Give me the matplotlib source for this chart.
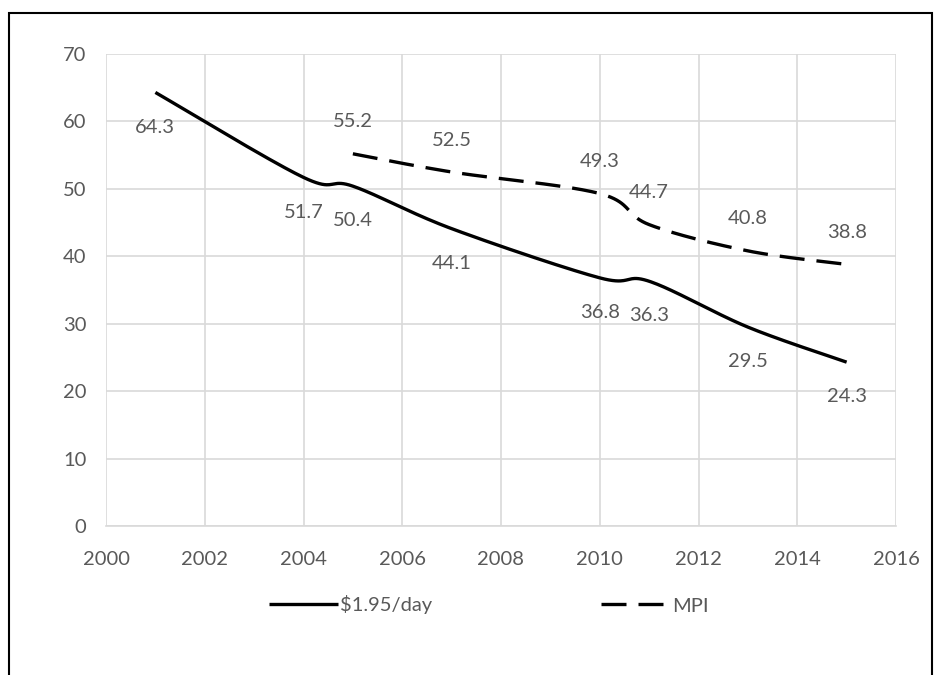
import numpy as np
import matplotlib.pyplot as plt
from matplotlib.patches import Rectangle

# $1.95/day poverty headcount
years_usd = [2001, 2004, 2005, 2007, 2010, 2011, 2013, 2015]
vals_usd = [64.3, 51.7, 50.4, 44.1, 36.8, 36.3, 29.5, 24.3]

# multidimensional poverty index
years_mpi = [2005, 2007, 2010, 2011, 2013, 2015]
vals_mpi = [55.2, 52.5, 49.3, 44.7, 40.8, 38.8]

x_ticks = list(range(2000, 2017, 2))
y_ticks = list(range(0, 71, 10))

grey = '#595959'
grid = '#d9d9d9'
fs = 14.5


def smooth(xs, ys, n=40):
    # spreadsheet-style smoothed line: cubic bezier through the points,
    # control points taken from the neighbours (catmull-rom)
    p = np.column_stack([xs, ys]).astype(float)
    p = np.vstack([p[0], p, p[-1]])
    out = []
    t = np.linspace(0, 1, n)[:, None]
    for i in range(1, len(p) - 2):
        p0 = p[i]
        p3 = p[i + 1]
        c1 = p0 + (p[i + 1] - p[i - 1]) / 6
        c2 = p3 - (p[i + 2] - p[i]) / 6
        seg = (1 - t) ** 3 * p0 + 3 * (1 - t) ** 2 * t * c1 + 3 * (1 - t) * t ** 2 * c2 + t ** 3 * p3
        out.append(seg if i == 1 else seg[1:])
    out = np.vstack(out)
    return out[:, 0], out[:, 1]


plt.rcParams['font.family'] = ['Lato', 'DejaVu Sans']

fig = plt.figure(figsize=(9.34, 6.75), dpi=100)
fig.patches.append(Rectangle((9 / 934, -0.1), 923 / 934, 1.1 - 13 / 675,
                             transform=fig.transFigure, fill=False,
                             edgecolor='black', linewidth=1.5))

ax = fig.add_axes([106 / 934, 1 - 526 / 675, 790 / 934, 472 / 675])

sx, sy = smooth(years_usd, vals_usd)
ax.plot(sx, sy, color='black', lw=2.4, solid_capstyle='butt', label='$1.95/day')
mx, my = smooth(years_mpi, vals_mpi)
ax.plot(mx, my, color='black', lw=2.4, linestyle=(0, (7.5, 3.6)),
        dash_capstyle='butt', label='MPI')

for x, y in zip(years_usd, vals_usd):
    ax.annotate(f'{y:.1f}', (x, y), xytext=(0, -25), textcoords='offset points',
                ha='center', va='center', fontsize=fs, color=grey)
for x, y in zip(years_mpi, vals_mpi):
    ax.annotate(f'{y:.1f}', (x, y), xytext=(0, 23), textcoords='offset points',
                ha='center', va='center', fontsize=fs, color=grey)

ax.set_xlim(2000, 2016)
ax.set_ylim(0, 70)
ax.set_xticks(x_ticks)
ax.set_yticks(y_ticks)
ax.tick_params(length=0, labelsize=fs, labelcolor=grey)
ax.tick_params(axis='x', pad=18)
ax.tick_params(axis='y', pad=14)
ax.grid(True, color=grid, lw=1.2)
ax.set_axisbelow(True)
for s in ['top', 'right', 'left']:
    ax.spines[s].set_visible(False)
ax.spines['bottom'].set_color(grid)
ax.spines['bottom'].set_linewidth(1.2)

ax.legend(loc='center', bbox_to_anchor=(489 / 934, 1 - 605 / 675),
          bbox_transform=fig.transFigure, ncol=2, frameon=False,
          fontsize=fs, labelcolor=grey, handlelength=3.4, handletextpad=0.12,
          columnspacing=8.4)

fig.savefig('out.png', dpi=100)
